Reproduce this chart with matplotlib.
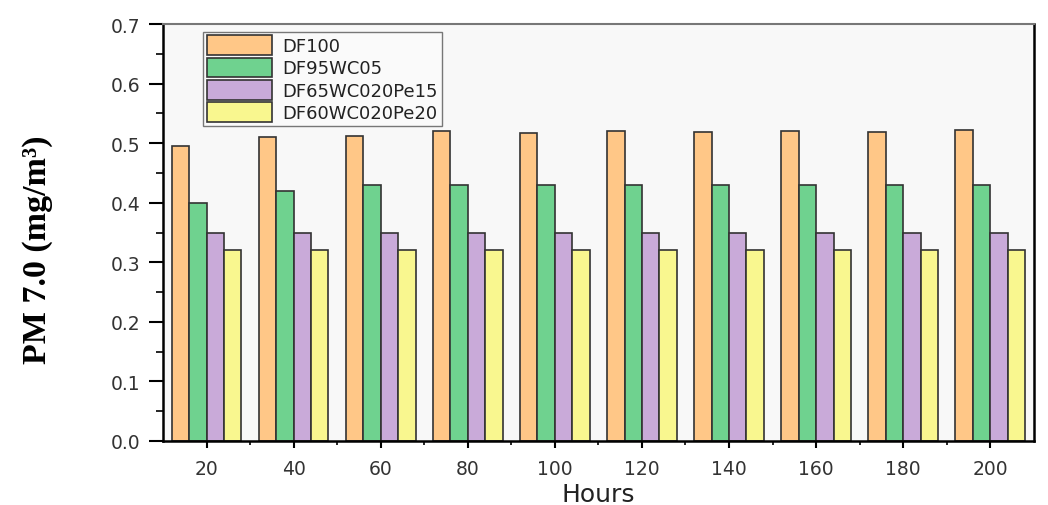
import matplotlib
matplotlib.use("Agg")
import matplotlib.pyplot as plt
import numpy as np
from matplotlib.ticker import MultipleLocator, FormatStrFormatter

hours = [20, 40, 60, 80, 100, 120, 140, 160, 180, 200]
series_names = ["DF100", "DF95WC05", "DF65WC020Pe15", "DF60WC020Pe20"]
df100 = [0.495, 0.510, 0.512, 0.520, 0.517, 0.520, 0.519, 0.520, 0.518, 0.522]
df95wc05 = [0.400, 0.420, 0.430, 0.430, 0.430, 0.430, 0.430, 0.430, 0.430, 0.430]
df65 = [0.350, 0.350, 0.350, 0.350, 0.350, 0.350, 0.350, 0.350, 0.350, 0.350]
df60 = [0.320, 0.320, 0.320, 0.320, 0.320, 0.320, 0.320, 0.320, 0.320, 0.320]
colors = ["#FFC787", "#6FD28F", "#C9AAD9", "#F9F78F"]

fig = plt.figure(figsize=(10.48, 5.06), dpi=100)
fig.patch.set_facecolor("white")
ax = fig.add_axes([0.1555, 0.1265, 0.831, 0.824])
ax.set_facecolor("#f8f8f8")

w = 4.0
x = np.array(hours, dtype=float)
for i, (vals, name, c) in enumerate(zip([df100, df95wc05, df65, df60], series_names, colors)):
    ax.bar(x + (i - 1.5) * w, vals, width=w, color=c, edgecolor="#333333",
           linewidth=1.2, label=name)

ax.set_xlim(10, 210)
ax.set_ylim(0, 0.7)
ax.set_xticks(hours)
ax.set_xticks([30, 50, 70, 90, 110, 130, 150, 170, 190], minor=True)
ax.yaxis.set_major_locator(MultipleLocator(0.1))
ax.yaxis.set_minor_locator(MultipleLocator(0.05))
ax.yaxis.set_major_formatter(FormatStrFormatter("%.1f"))

for lab in ax.get_xticklabels() + ax.get_yticklabels():
    lab.set_fontfamily("DejaVu Sans")
    lab.set_fontsize(13.5)
    lab.set_color("#333333")

ax.tick_params(axis="y", which="major", direction="out", length=10, width=1.5, pad=6)
ax.tick_params(axis="y", which="minor", direction="out", length=5, width=1.2)
ax.tick_params(axis="x", which="major", direction="out", length=5, width=1.5, pad=8)
ax.tick_params(axis="x", which="minor", direction="out", length=3, width=1.2)

for s in ["left", "bottom", "right"]:
    ax.spines[s].set_linewidth(1.8)
    ax.spines[s].set_color("black")
ax.spines["top"].set_color("#777777")
ax.spines["top"].set_linewidth(1.5)

ax.set_xlabel("Hours", fontfamily="DejaVu Sans", fontsize=18, color="#222222", labelpad=3)
ax.set_ylabel("PM 7.0 (mg/m\u00b3)", fontfamily="Liberation Serif", fontweight="bold",
              fontsize=24.5, color="black")
ax.yaxis.set_label_coords(-0.126, 0.46)

leg = ax.legend(loc="upper left", bbox_to_anchor=(0.046, 0.982), frameon=True,
                fancybox=False, edgecolor="#777777", framealpha=1, facecolor="#fafafa",
                handlelength=3.6, handleheight=1.3, labelspacing=0.14, borderpad=0.2,
                borderaxespad=0, handletextpad=0.6,
                prop={"family": "DejaVu Sans", "size": 13})
for t in leg.get_texts():
    t.set_color("#222222")

fig.savefig("out.png", dpi=100, facecolor="white")
